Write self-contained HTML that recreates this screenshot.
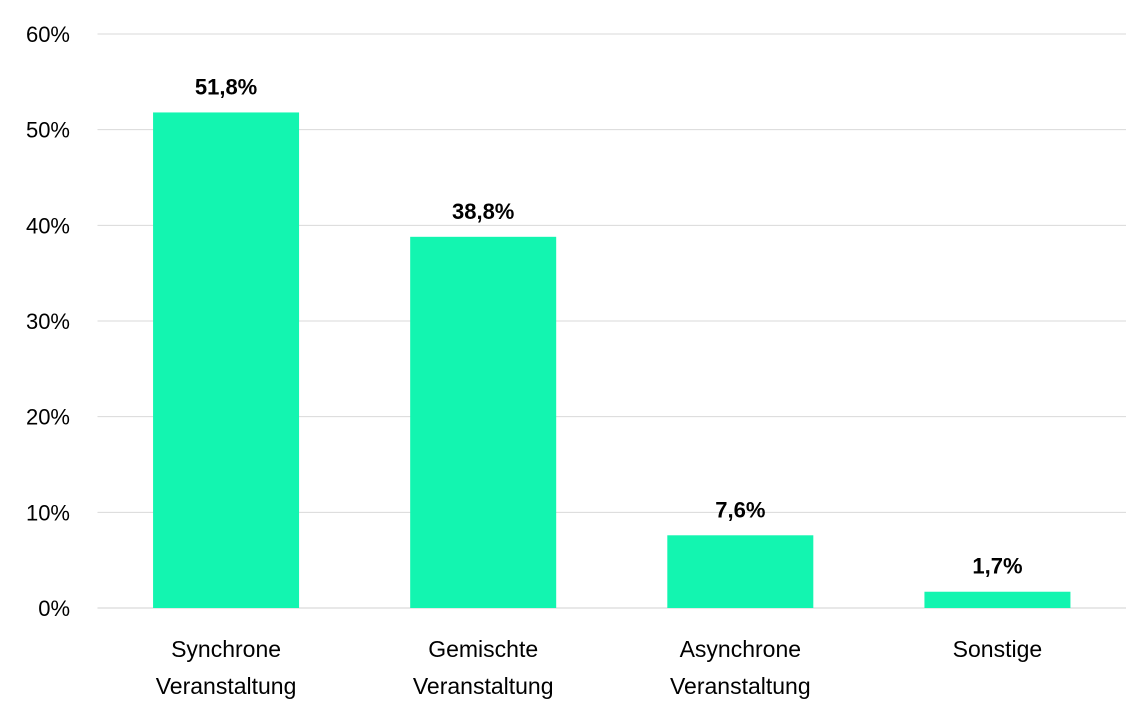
<!DOCTYPE html>
<html><head><meta charset="utf-8"><style>
body{margin:0;background:#fff;}
svg text{font-family:"Liberation Sans",sans-serif;fill:#000;}
</style></head><body>
<svg id="chart" width="1140" height="712" xmlns="http://www.w3.org/2000/svg"></svg>
<script>
const categories = [["Synchrone","Veranstaltung"],["Gemischte","Veranstaltung"],["Asynchrone","Veranstaltung"],["Sonstige"]];
const values = [51.8, 38.8, 7.6, 1.7];
const valueLabels = ["51,8%","38,8%","7,6%","1,7%"];
const yTicks = [0,10,20,30,40,50,60];
const yTickLabels = ["0%","10%","20%","30%","40%","50%","60%"];

const svg = document.getElementById('chart');
const NS = "http://www.w3.org/2000/svg";
const plotL = 97.5, plotR = 1126, y0 = 608, yTop = 34, yMax = 60;
const y = v => y0 - (v / yMax) * (y0 - yTop);
const band = (plotR - plotL) / categories.length;
const xc = i => plotL + band * (i + 0.5);
const barW = 146;
function mk(tag, attrs){const e=document.createElementNS(NS,tag);for(const k in attrs)e.setAttribute(k,attrs[k]);svg.appendChild(e);return e;}

yTicks.forEach((t,i)=>{
  const g = mk('line',{x1:plotL,x2:plotR,y1:y(t),y2:y(t),stroke:t===0?'#d0d0d0':'#d9d9d9','stroke-width':1});
  
  
  const l = mk('text',{x:70,y:y(t)+8,'text-anchor':'end','font-size':22});
  l.textContent = yTickLabels[i];
  
  
});

values.forEach((v,i)=>{
  const r = mk('rect',{x:xc(i)-barW/2,y:y(v),width:barW,height:y0-y(v),fill:'#13F5B0'});
  
  
  const t = mk('text',{x:xc(i),y:y(v)-18,'text-anchor':'middle','font-size':22,'font-weight':'bold'});
  t.textContent = valueLabels[i];
  
  
  categories[i].forEach((line,j)=>{
    const c = mk('text',{x:xc(i),y:657+j*37,'text-anchor':'middle','font-size':23});
    c.textContent = line;
    
    
  });
});
</script>
</body></html>
